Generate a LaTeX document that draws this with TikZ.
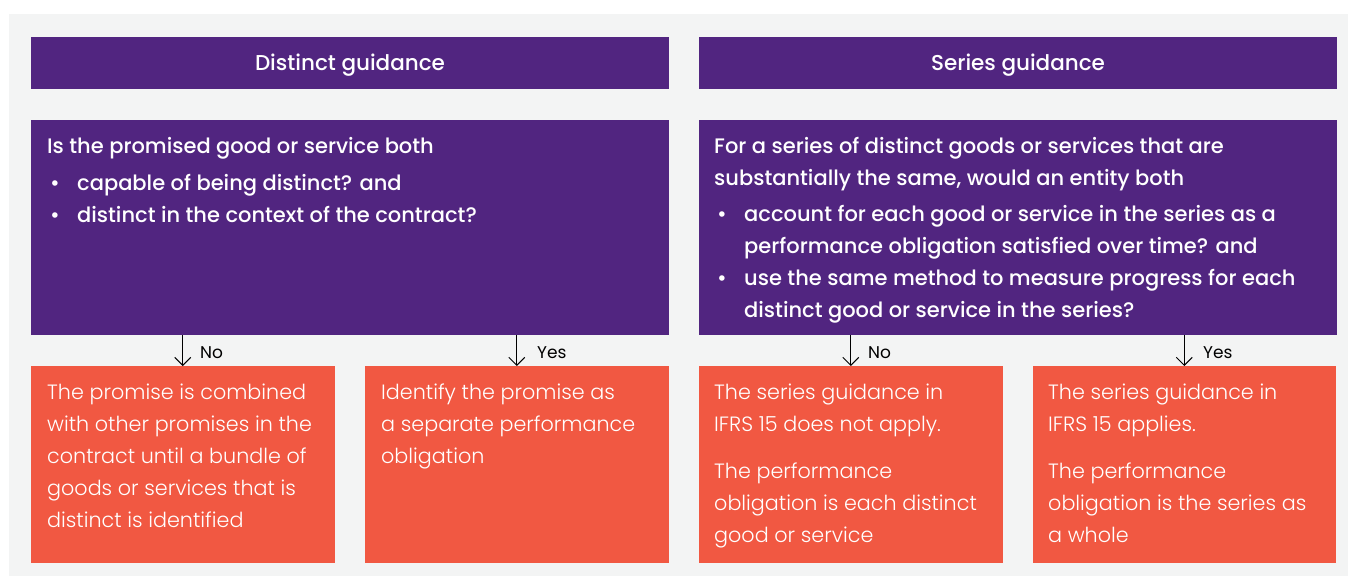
\documentclass[tikz,border=0pt]{standalone}
\usepackage{fontspec}
\setmainfont{Poppins}[UprightFont={* Light}, BoldFont={* Medium}]
\newfontfamily\popreg{Poppins}
\usetikzlibrary{arrows.meta}
\definecolor{bg}{HTML}{F3F4F4}
\definecolor{purp}{HTML}{512580}
\definecolor{orng}{HTML}{F15842}
\newcommand{\bul}{\makebox[30pt][l]{\hspace*{3pt}•}}
\newcommand{\ind}{\hspace*{30pt}}
\newcommand{\tp}{\rule{0pt}{20pt}}
\begin{document}
\begin{tikzpicture}[x=1pt,y=-1pt,
  box/.style={rectangle, inner sep=0pt, outer sep=0pt, anchor=north west, draw=none},
  hdr/.style={box, fill=purp, minimum width=638pt, minimum height=52pt, text=white, text height=15pt, text depth=1pt, font=\bfseries\fontsize{21.5}{26}\selectfont},
  qbox/.style={box, fill=purp, minimum width=638pt, minimum height=215pt},
  obox/.style={box, fill=orng, minimum width=303.5pt, minimum height=197pt},
  qtext/.style={text=white, anchor=north west, inner sep=0pt, align=left, font=\bfseries\fontsize{21}{32}\selectfont},
  otext/.style={text=white, anchor=north west, inner sep=0pt, align=left, font=\fontsize{20.7}{32}\selectfont},
  arr/.style={-{Straight Barb[length=8pt,width=16pt]}, line width=1pt, black},
  lbl/.style={anchor=base west, inner sep=0pt, font=\popreg\fontsize{17}{20}\selectfont, text=black}
]
\useasboundingbox (0,0) rectangle (1348,576);
\fill[bg] (9,14) rectangle (1348,576);

% headers
\node[hdr] (h1) at (31,37) {Distinct guidance};
\node[hdr] (h2) at (699,37) {Series guidance};

% question boxes
\node[qbox] (q1) at (31,120) {};
\node[qbox] (q2) at (699,120) {};
\node[qtext] (qt1) at (47,133) {\tp Is the promised good or service both\\[5pt]
\bul capable of being distinct? and\\
\bul distinct in the context of the contract?};
\node[qtext] (qt2) at (714,133) {\tp For a series of distinct goods or services that are\\
substantially the same, would an entity both\\[4pt]
\bul account for each good or service in the series as a\\
\ind performance obligation satisfied over time? and\\
\bul use the same method to measure progress for each\\
\ind distinct good or service in the series?};

% outcome boxes
\node[obox] (o1) at (31,366) {};
\node[obox] (o2) at (365,366) {};
\node[obox] (o3) at (699,366) {};
\node[obox] (o4) at (1032.5,366) {};

\node[otext] (ot1) at (47,379) {\tp The promise is combined\\with other promises in the\\contract until a bundle of\\goods or services that is\\distinct is identified};
\node[otext] (ot2) at (381,379) {\tp Identify the promise as\\a separate performance\\obligation};
\node[otext] (ot3) at (714,379) {\tp The series guidance in\\IFRS 15 does not apply.\\[15pt]The performance\\obligation is each distinct\\good or service};
\node[otext] (ot4) at (1048,379) {\tp The series guidance in\\IFRS 15 applies.\\[15pt]The performance\\obligation is the series as\\a whole};

% connectors
\draw[arr] (o1.north |- q1.south) -- (o1.north);
\draw[arr] (o2.north |- q1.south) -- (o2.north);
\draw[arr] (o3.north |- q2.south) -- (o3.north);
\draw[arr] (o4.north |- q2.south) -- (o4.north);

\node[lbl] (l1) at (200,358) {No};
\node[lbl] (l2) at (537,358) {Yes};
\node[lbl] (l3) at (868,358) {No};
\node[lbl] (l4) at (1203,358) {Yes};
\end{tikzpicture}
\end{document}
